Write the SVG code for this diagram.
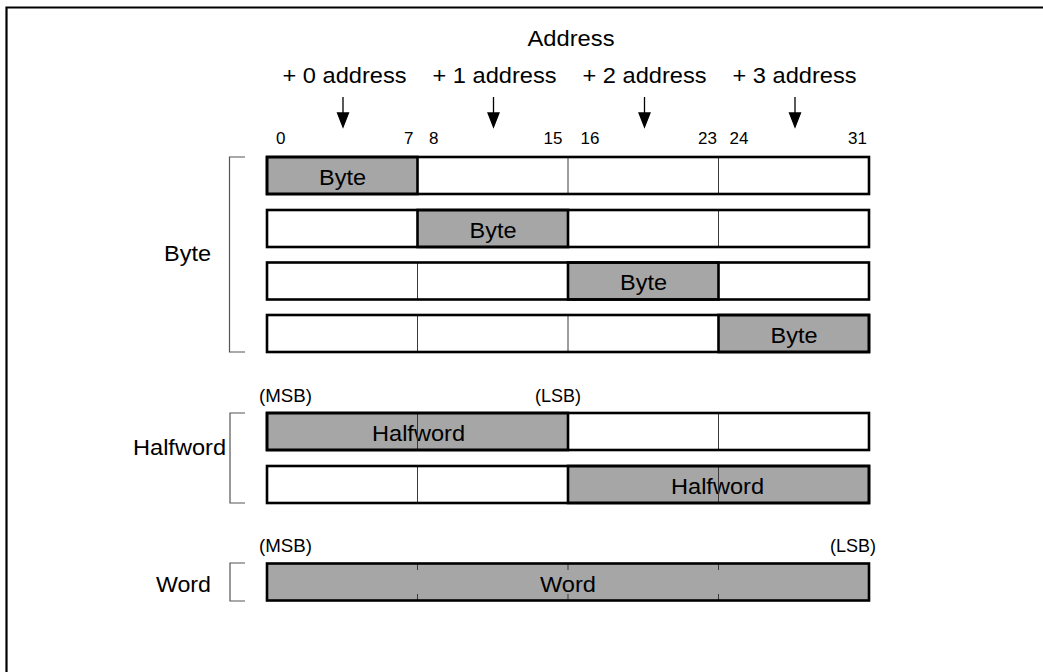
<svg xmlns="http://www.w3.org/2000/svg" width="1043" height="672" viewBox="0 0 1043 672">
<defs>
<style>
.bg{fill:#fff}
.frame{fill:none;stroke:#000;stroke-width:2.2}
.w{fill:#fff}
.g{fill:#a6a6a6}
.thick{fill:none;stroke:#000;stroke-width:2.6}
.thin{stroke:#3a3a3a;stroke-width:1;fill:none}
.br{fill:none;stroke:#555;stroke-width:1.2}
.big{font-family:"Liberation Sans",Arial,Helvetica,sans-serif;font-size:22px;fill:#000}
.sm{font-family:"Liberation Sans",Arial,Helvetica,sans-serif;font-size:17px;fill:#000}
.ms{font-family:"Liberation Sans",Arial,Helvetica,sans-serif;font-size:17.5px;fill:#000}
.mid{text-anchor:middle}
.end{text-anchor:end}
.arr{stroke:#000;stroke-width:1.3;fill:none}
</style>
<marker id="ah" viewBox="0 0 10 14" refX="5" refY="14" markerWidth="10" markerHeight="14" markerUnits="userSpaceOnUse" orient="auto-start-reverse">
<path d="M0,0 L10,0 L5,14 Z" fill="#000" transform="rotate(0)"/>
</marker>
</defs>
<rect class="bg" x="0" y="0" width="1043" height="672"/>
<path class="frame" d="M6.5,672 L6.5,7.5 L1043,7.5"/>

<g id="header">
<text class="big mid" x="571" y="46" textLength="87" lengthAdjust="spacingAndGlyphs">Address</text>
<text class="big mid" x="344.5" y="83" textLength="124" lengthAdjust="spacingAndGlyphs">+ 0 address</text>
<text class="big mid" x="494.5" y="83" textLength="124" lengthAdjust="spacingAndGlyphs">+ 1 address</text>
<text class="big mid" x="644.5" y="83" textLength="124" lengthAdjust="spacingAndGlyphs">+ 2 address</text>
<text class="big mid" x="794.5" y="83" textLength="124" lengthAdjust="spacingAndGlyphs">+ 3 address</text>
</g>

<g id="connectors">
<path d="M343,97 L343,113 M337.5,113 L348.5,113 L343,127 Z" class="arr" stroke-linejoin="miter"/>
<path d="M493.5,97 L493.5,113 M488,113 L499,113 L493.5,127 Z" class="arr"/>
<path d="M644.5,97 L644.5,113 M639,113 L650,113 L644.5,127 Z" class="arr"/>
<path d="M795,97 L795,113 M789.5,113 L800.5,113 L795,127 Z" class="arr"/>
<path d="M337.5,113 L348.5,113 L343,127 Z M488,113 L499,113 L493.5,127 Z M639,113 L650,113 L644.5,127 Z M789.5,113 L800.5,113 L795,127 Z" fill="#000"/>
</g>

<g id="bit-numbers">
<text class="sm" x="276" y="144">0</text>
<text class="sm end" x="413.5" y="144">7</text>
<text class="sm" x="429" y="144">8</text>
<text class="sm end" x="562.5" y="144">15</text>
<text class="sm" x="580.5" y="144">16</text>
<text class="sm end" x="717" y="144">23</text>
<text class="sm" x="729.5" y="144">24</text>
<text class="sm end" x="867" y="144">31</text>
</g>

<g id="byte-group">
<path class="br" d="M245,157 L229.5,157 L229.5,352 L245,352"/>
<text class="big mid" x="187.5" y="261" textLength="47" lengthAdjust="spacingAndGlyphs">Byte</text>
</g>

<g id="byte-row-0">
<rect class="w" x="267" y="157" width="602" height="37"/>
<rect class="g" x="267" y="157" width="150.5" height="37"/>
<path class="thin" d="M568,157 V194 M718.5,157 V194"/>
<rect class="thick" x="267" y="157" width="150.5" height="37"/>
<rect class="thick" x="267" y="157" width="602" height="37"/>
<text class="big mid" x="342.5" y="184.5" textLength="47" lengthAdjust="spacingAndGlyphs">Byte</text>
</g>

<g id="byte-row-1">
<rect class="w" x="267" y="210" width="602" height="37"/>
<rect class="g" x="417.5" y="210" width="150.5" height="37"/>
<path class="thin" d="M718.5,210 V247"/>
<rect class="thick" x="417.5" y="210" width="150.5" height="37"/>
<rect class="thick" x="267" y="210" width="602" height="37"/>
<text class="big mid" x="493" y="237.5" textLength="47" lengthAdjust="spacingAndGlyphs">Byte</text>
</g>

<g id="byte-row-2">
<rect class="w" x="267" y="262.5" width="602" height="37"/>
<rect class="g" x="568" y="262.5" width="150.5" height="37"/>
<path class="thin" d="M417.5,262.5 V299.5"/>
<rect class="thick" x="568" y="262.5" width="150.5" height="37"/>
<rect class="thick" x="267" y="262.5" width="602" height="37"/>
<text class="big mid" x="643.5" y="290" textLength="47" lengthAdjust="spacingAndGlyphs">Byte</text>
</g>

<g id="byte-row-3">
<rect class="w" x="267" y="315" width="602" height="37"/>
<rect class="g" x="718.5" y="315" width="150.5" height="37"/>
<path class="thin" d="M417.5,315 V352 M568,315 V352"/>
<rect class="thick" x="718.5" y="315" width="150.5" height="37"/>
<rect class="thick" x="267" y="315" width="602" height="37"/>
<text class="big mid" x="794" y="342.5" textLength="47" lengthAdjust="spacingAndGlyphs">Byte</text>
</g>

<g id="halfword-group">
<path class="br" d="M245,413 L230,413 L230,503 L245,503"/>
<text class="big mid" x="179.5" y="455" textLength="93" lengthAdjust="spacingAndGlyphs">Halfword</text>
<text class="ms" x="259" y="401.5" textLength="53" lengthAdjust="spacingAndGlyphs">(MSB)</text>
<text class="ms end" x="581" y="401.5" textLength="46" lengthAdjust="spacingAndGlyphs">(LSB)</text>
</g>

<g id="halfword-row-0">
<rect class="w" x="267" y="413" width="602" height="37"/>
<rect class="g" x="267" y="413" width="301" height="37"/>
<text class="big mid" x="418.5" y="440.5" textLength="93" lengthAdjust="spacingAndGlyphs">Halfword</text>
<path class="thin" d="M417.5,413 V450 M718.5,413 V450"/>
<rect class="thick" x="267" y="413" width="301" height="37"/>
<rect class="thick" x="267" y="413" width="602" height="37"/>
</g>

<g id="halfword-row-1">
<rect class="w" x="267" y="466" width="602" height="37"/>
<rect class="g" x="568" y="466" width="301" height="37"/>
<text class="big mid" x="717.5" y="493.5" textLength="93" lengthAdjust="spacingAndGlyphs">Halfword</text>
<path class="thin" d="M417.5,466 V503 M718.5,466 V503"/>
<rect class="thick" x="568" y="466" width="301" height="37"/>
<rect class="thick" x="267" y="466" width="602" height="37"/>
</g>

<g id="word-group">
<path class="br" d="M245,563 L230,563 L230,601 L245,601"/>
<text class="big mid" x="183.5" y="591.5" textLength="55" lengthAdjust="spacingAndGlyphs">Word</text>
<text class="ms" x="259" y="551.5" textLength="53" lengthAdjust="spacingAndGlyphs">(MSB)</text>
<text class="ms end" x="876" y="551.5" textLength="46" lengthAdjust="spacingAndGlyphs">(LSB)</text>
</g>

<g id="word-row">
<rect class="g" x="267" y="563.5" width="602" height="37"/>
<path class="thin" d="M417.5,563.5 V570 M568,563.5 V570 M718.5,563.5 V570 M417.5,594 V600.5 M568,594 V600.5 M718.5,594 V600.5"/>
<text class="big mid" x="568" y="591.5" textLength="56" lengthAdjust="spacingAndGlyphs">Word</text>
<rect class="thick" x="267" y="563.5" width="602" height="37"/>
</g>
</svg>
